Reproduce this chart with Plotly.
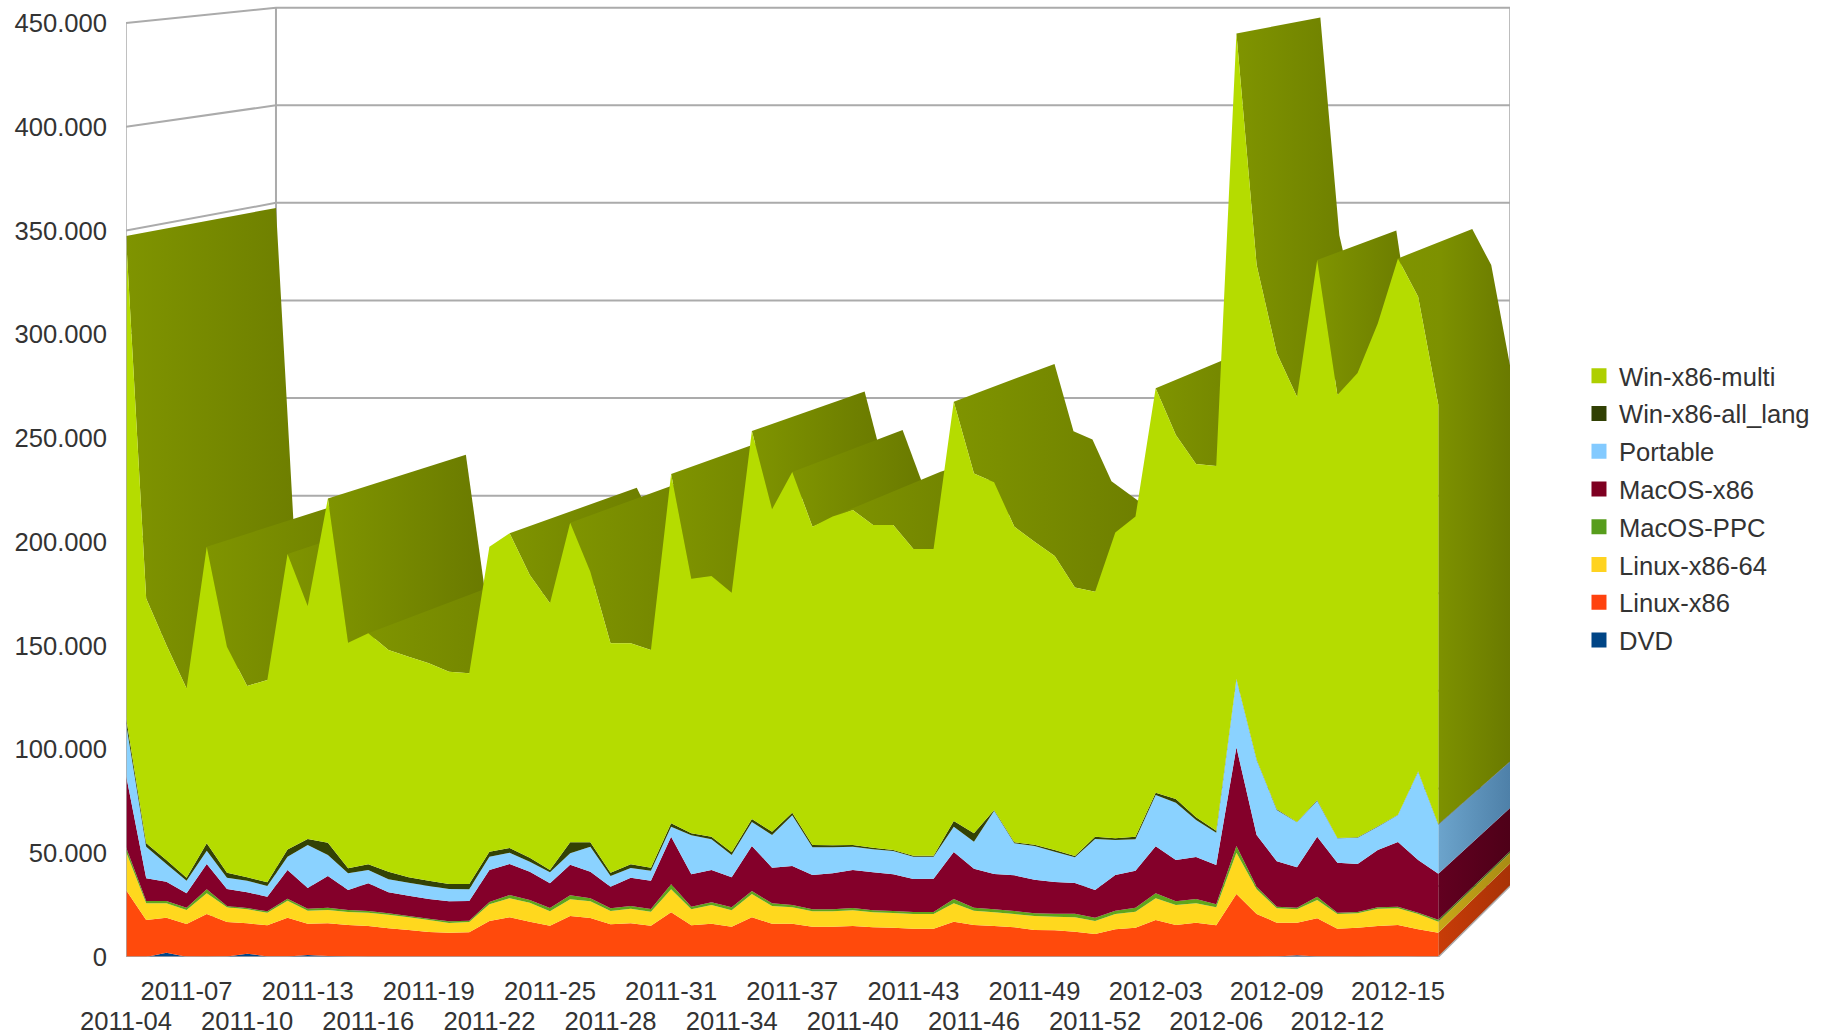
import numpy as np
import plotly.graph_objects as go

weeks = [f"2011-{w:02d}" for w in range(4, 53)] + [f"2012-{w:02d}" for w in range(1, 18)]

dvd = [0,0,2000,100,0,300,1600,300,300,1000,500,200,0,0,0,0,0,0,0,0,0,0,0,0,0,0,0,0,0,0,0,0,0,
       0,0,0,0,0,0,0,0,0,0,0,0,0,0,0,0,0,0,0,0,0,0,0,0,300,800,300,80,0,100,200,0,0]
linux_x86 = [32280,17830,16950,15800,20720,16560,14620,14960,18650,15060,15720,15220,14940,13810,13010,12050,
             11720,11880,17340,19110,17020,15100,19750,18790,15740,16220,15100,21520,15260,16060,14610,19110,16060,
             16060,14610,14610,14940,14290,14130,13650,13650,17020,15420,14940,14290,13010,12850,12210,11080,13330,
             14130,17830,15420,16540,15260,30350,20720,16240,15740,18330,13570,14130,14840,15220,13330,11720]
linux_x86_64 = [18470,8030,6910,6750,9960,7070,6750,6100,8190,6260,6420,6260,6420,6580,6100,5780,4660,4980,8030,
                9150,9150,6910,8030,8030,6420,7070,6750,11080,7710,8990,7870,11240,8510,7870,7390,7390,7550,7230,
                7070,7070,7070,8830,6910,6580,6420,6750,6580,6910,6260,7390,7710,10440,9640,9310,8670,19910,11880,
                6910,6420,8830,7070,6910,8350,8030,7390,5300]
macos_ppc = [2090,1120,1120,1120,1930,640,640,640,960,960,1120,960,800,640,640,640,800,640,1120,1610,1280,1610,
             1930,1450,1280,1280,1280,2410,1280,1280,1450,1450,1280,1120,960,960,1120,960,960,960,960,2090,1450,
             1450,1450,1280,1450,1770,1610,1610,1930,2410,1770,2090,1450,3210,1280,800,800,1610,640,640,640,800,
             640,960]
macos_x86 = [34850,10920,9310,6910,12210,8190,7550,7070,13810,9960,15260,9640,13330,10120,9800,9480,9640,9480,
             15420,14940,13650,11880,14780,12850,10440,13650,13650,22970,15580,15580,14450,21680,17180,18790,16540,
             17340,18310,18310,17670,15900,16060,22640,18790,17020,17180,16220,15260,14780,13330,17180,17830,22640,
             19910,20240,18950,47540,24890,21840,19430,28910,24090,23130,27620,31160,25370,22160]
portable = [24890,15260,8510,6100,6420,5460,5620,5140,6420,20720,10120,8030,6420,6260,6260,6260,5940,5620,6420,
            5460,4820,5300,5460,12050,5140,4660,4820,4820,18790,14780,10760,11560,15740,24410,13330,12530,11240,
            11080,11240,10760,10600,12210,13010,30510,15420,16220,14610,12370,24570,16860,15100,24730,27620,17830,
            15580,32760,36140,24730,21680,17340,11720,12690,11240,13010,42560,23610]
win_all_lang = [2880,1600,1920,1440,3520,2400,1600,1760,3520,2880,5920,2400,2720,3680,2560,2560,2400,2560,2400,
                2240,1920,1120,5280,2080,1600,1760,1440,1600,960,1280,1280,1440,1600,1280,1120,960,800,800,480,
                480,480,2720,4000,320,480,640,800,640,1120,800,1280,1120,1760,1280,960,320,320,320,160,320,160,
                160,160,160,160,160]
win_multi = [231900,118000,103600,91200,142900,108900,92200,97500,142300,112300,165900,108700,111300,106800,106300,
             104700,102300,101500,146900,151600,136200,128500,154000,130400,110500,106500,104900,168300,122700,
             125600,125100,186900,155300,164100,153400,158400,161400,155500,156600,147800,147800,202000,173400,
             157900,152100,146000,141600,129400,118000,147300,154200,194800,175400,170200,175700,310900,238200,
             219700,204900,260200,213400,223700,242300,268000,228700,202200]

names = ["DVD", "Linux-x86", "Linux-x86-64", "MacOS-PPC", "MacOS-x86", "Portable", "Win-x86-all_lang", "Win-x86-multi"]
series = [dvd, linux_x86, linux_x86_64, macos_ppc, macos_x86, portable, win_all_lang, win_multi]
fill_colors = ["#004586", "#FF4A0C", "#FFD81E", "#5FA51C", "#84002A", "#8AD2FF", "#334204", "#B5DC00"]
legend_colors = ["#004586", "#FF420E", "#FFD320", "#579D1C", "#7E0021", "#83CAFF", "#314004", "#AECF00"]
cap_colors = [("#003060", "#002848"), ("#C83C08", "#A83206"), ("#C8A818", "#A88C14"), ("#4A8016", "#3C6A12"),
              ("#620020", "#4E0018"), ("#6CA4CC", "#4E80A8"), ("#28340A", "#202A08"), ("#7F9400", "#6A7A00")]

y_ticks = [0, 50000, 100000, 150000, 200000, 250000, 300000, 350000, 400000, 450000]
y_labels = ["0", "50.000", "100.000", "150.000", "200.000", "250.000", "300.000", "350.000", "400.000", "450.000"]

FONT = "Liberation Sans"
TXT = "#333333"
GRID = "#ABABAB"
DEPTH = 0.9405
VX, VY = 124.85, 574300.0


def back(x, y):
    return VX + DEPTH * (np.asarray(x, float) - VX), VY + DEPTH * (np.asarray(y, float) - VY)


x = np.arange(len(weeks), dtype=float)
stack = np.cumsum(np.array(series, dtype=float), axis=0)
total = stack[-1]
last = x[-1]

fig = go.Figure()


def line(xs, ys, width=2, color=GRID):
    fig.add_trace(go.Scatter(x=xs, y=ys, mode="lines", line=dict(color=color, width=width),
                             showlegend=False, hoverinfo="skip", cliponaxis=False))


# walls
bx0, _ = back(0, 0)
bx1, _ = back(last, 0)
for v in y_ticks:
    _, by = back(0, v)
    line([0, bx0, bx1], [v, by, by])
_, by0 = back(0, 0)
_, byt = back(0, y_ticks[-1])
line([bx0, bx0], [by0, byt])
line([bx1, bx1], [by0, byt])


def quad(xs, ys, stops):
    xs, ys = [float(a) for a in xs], [float(a) for a in ys]
    fig.add_trace(go.Scatter(
        x=xs, y=ys, mode="lines", fill="toself", line=dict(width=0, color=stops[-1][1]),
        fillgradient=dict(type="horizontal", colorscale=stops, start=min(xs), stop=max(xs)),
        showlegend=False, hoverinfo="skip"))


def two(c0, c1):
    return [[0, c0], [1, c1]]


# top faces of the uppermost series: contiguous visible faces form one gradient run, drawn left to right
PXX, PXY = 20.194, 934 / 450000


def visible(i):
    ax, ay = back(x[i], total[i])
    dx1, dy1 = (x[i + 1] - x[i]) * PXX, (total[i + 1] - total[i]) * PXY
    dx2, dy2 = (ax - x[i]) * PXX, (ay - total[i]) * PXY
    return dx1 * dy2 - dy1 * dx2 > 0


under = stack[-2][-1]  # the end cap of the top series joins the last run of top faces
i = 0
while i < len(x) - 1:
    if not visible(i):
        i += 1
        continue
    j = i
    while j < len(x) - 1 and visible(j):
        j += 1
    fx, fy = x[i:j + 1], total[i:j + 1]
    bx, by = back(fx, fy)
    if j == len(x) - 1:
        ux, uy = back(last, under)
        quad(list(fx) + [last, ux] + list(bx[::-1]) + [fx[0]], list(fy) + [under, uy] + list(by[::-1]) + [fy[0]],
             [[0, "#7F9400"], [0.38, "#7D9100"], [1, "#6A7A00"]])
    else:
        quad(list(fx) + list(bx[::-1]) + [fx[0]], list(fy) + list(by[::-1]) + [fy[0]], two(*cap_colors[-1]))
    i = j

# end cap of the lower series
prev = 0.0
for k in range(len(series) - 1):
    t = stack[k][-1]
    if t - prev > 0:
        b1x, b1y = back(last, prev)
        b2x, b2y = back(last, t)
        quad([last, last, b2x, b1x, last], [prev, t, b2y, b1y, prev], two(*cap_colors[k]))
    prev = t

# front stacked areas
for name, vals, col in zip(names, series, fill_colors):
    fig.add_trace(go.Scatter(x=x, y=vals, mode="none", stackgroup="front", fillcolor=col,
                             showlegend=False, hoverinfo="skip", name=name))

# front edges
line([0, 0], [0, y_ticks[-1]], width=1.5)
line([0, last, float(bx1)], [0, 0, float(by0)], width=1.5)

# legend
for name, col in list(zip(names, legend_colors))[::-1]:
    fig.add_trace(go.Scatter(x=[None], y=[None], mode="markers", name=name, legendgroup=name,
                             marker=dict(symbol="square", size=15, color=col)))

# carrier for the second row of week labels
fig.add_trace(go.Scatter(x=[None], y=[None], xaxis="x2", yaxis="y", mode="lines", showlegend=False, hoverinfo="skip"))

up = list(range(3, len(weeks), 6))
low = list(range(0, len(weeks), 6))
tf = dict(family=FONT, size=25.6, color=TXT)
XR = [0, (1510 - 125.7) / PXX]
fig.update_layout(
    width=1826, height=1035, margin=dict(l=125.7, r=316, t=6, b=78, autoexpand=False),
    paper_bgcolor="white", plot_bgcolor="white", font=tf, hovermode=False,
    xaxis=dict(range=XR, tickmode="array", tickvals=up, ticktext=[weeks[i] for i in up], showgrid=False, zeroline=False,
               showline=False, ticks="", tickfont=tf, ticklabelstandoff=16, tickangle=0),
    xaxis2=dict(range=XR, overlaying="x", anchor="y", side="bottom", tickmode="array", tickvals=low,
                ticktext=[weeks[i] for i in low], showgrid=False, zeroline=False, showline=False, ticks="", tickfont=tf,
                ticklabelstandoff=46, tickangle=0),
    yaxis=dict(range=[0, (957 - 6) / 934 * 450000], tickmode="array", tickvals=y_ticks, ticktext=y_labels, showgrid=False,
               zeroline=False, showline=False, ticks="", tickfont=tf, ticklabelstandoff=18),
    legend=dict(x=(1579 - 125.7) / 1384.3, xanchor="left", y=(957 - 352.5) / 951, yanchor="top", traceorder="grouped",
                tracegroupgap=1.5, font=tf, bgcolor="rgba(0,0,0,0)", itemclick=False, itemdoubleclick=False),
    showlegend=True,
)
fig.write_html("out.html", config={"displayModeBar": False}, post_script="document.body.style.margin='0';")
